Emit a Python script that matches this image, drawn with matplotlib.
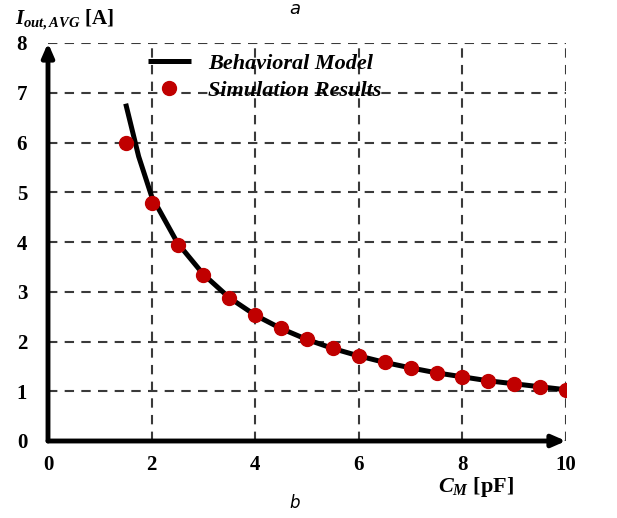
import matplotlib
matplotlib.use('Agg')
import matplotlib.pyplot as plt
import numpy as np

# 数据
cm_model = [1.5, 1.75, 2.0, 2.5, 3.0, 3.5, 4.0, 4.5, 5.0, 5.5, 6.0,
            6.5, 7.0, 7.5, 8.0, 8.5, 9.0, 9.5, 10.0]
iout_model = [6.78, 5.72, 4.92, 3.98, 3.35, 2.88, 2.53, 2.26, 2.04, 1.86, 1.71,
              1.58, 1.47, 1.37, 1.29, 1.21, 1.15, 1.09, 1.03]
cm_sim = [1.5, 2.0, 2.5, 3.0, 3.5, 4.0, 4.5, 5.0, 5.5, 6.0,
          6.5, 7.0, 7.5, 8.0, 8.5, 9.0, 9.5, 10.0]
iout_sim = [6.0, 4.78, 3.93, 3.33, 2.87, 2.53, 2.27, 2.05, 1.86, 1.71,
            1.58, 1.47, 1.37, 1.29, 1.21, 1.15, 1.08, 1.03]
xticks = [0, 2, 4, 6, 8, 10]
yticks = [0, 1, 2, 3, 4, 5, 6, 7, 8]

plt.rcParams['font.family'] = 'Liberation Serif'
plt.rcParams['mathtext.fontset'] = 'custom'
plt.rcParams['mathtext.rm'] = 'Liberation Serif:bold'
plt.rcParams['mathtext.it'] = 'Liberation Serif:italic:bold'

fig = plt.figure(figsize=(6.17, 5.18), dpi=100)
ax = fig.add_axes([48/617, 1-441/518, (566-48)/617, (441-43)/518])

ax.plot(cm_model, iout_model, color='k', lw=3.6, solid_capstyle='butt',
        label='Behavioral Model', zorder=3)
ax.plot(cm_sim, iout_sim, 'o', color='#c00000', ms=10, mec='#c00000',
        label='Simulation Results', zorder=4)

ax.set_xlim(0, 10)
ax.set_ylim(0, 8)
ax.set_xticks(xticks)
ax.set_yticks(yticks)
ax.grid(True, ls=(0, (4.5, 3.5)), color='#3a3a3a', lw=1.5)
for s in ax.spines.values():
    s.set_visible(False)
ax.tick_params(length=0, labelsize=15)
ax.tick_params(axis='x', pad=10)
ax.tick_params(axis='y', pad=15)
for label in ax.get_xticklabels() + ax.get_yticklabels():
    label.set_fontweight('bold')

# 箭头坐标轴
ax.annotate('', xy=(1.0, 0), xytext=(0, 0), xycoords='axes fraction',
            arrowprops=dict(arrowstyle='-|>,head_length=0.8,head_width=0.35',
                            color='k', lw=3.5, shrinkA=0, shrinkB=0),
            annotation_clip=False, zorder=5)
ax.annotate('', xy=(0, 1.0), xytext=(0, 0), xycoords='axes fraction',
            arrowprops=dict(arrowstyle='-|>,head_length=0.8,head_width=0.35',
                            color='k', lw=3.5, shrinkA=0, shrinkB=0),
            annotation_clip=False, zorder=5)

leg = ax.legend(loc='upper left', bbox_to_anchor=(0.155, 1.025), frameon=False,
                handlelength=1.9, handletextpad=0.8, labelspacing=0.32,
                prop={'family': 'Liberation Serif', 'weight': 'bold',
                      'style': 'italic', 'size': 16})

fig.text(15/617, 1-20/518, r'$I_{out,AVG}$ [A]', fontsize=15, fontweight='bold',
         ha='left', va='center')
fig.text(438/617, 1-487/518, r'$C_{M}$ [pF]', fontsize=16, fontweight='bold',
         ha='left', va='center')
fig.text(295/617, 1-9/518, 'a', fontsize=13, style='italic', family='DejaVu Sans',
         ha='center', va='center')
fig.text(295/617, 1-503/518, 'b', fontsize=12, style='italic', family='DejaVu Sans',
         ha='center', va='center')

fig.savefig('out.png', dpi=100)
